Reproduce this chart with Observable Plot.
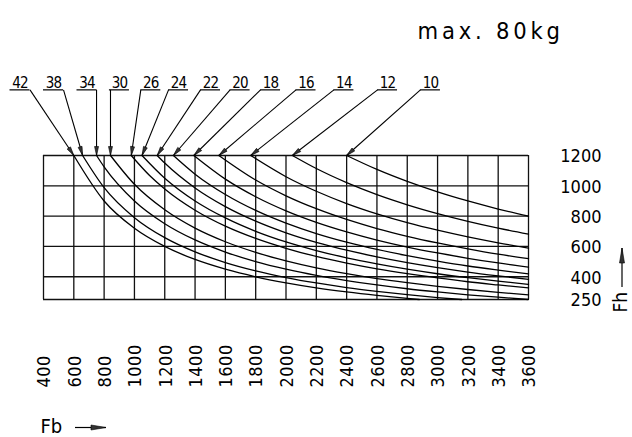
<!DOCTYPE html>
<html><head><meta charset="utf-8">
<script src="https://cdn.jsdelivr.net/npm/d3@7"></script>
<script src="https://cdn.jsdelivr.net/npm/@observablehq/plot@0.6"></script>
<style>
html,body{margin:0;padding:0;background:#fff;}
#chart svg{display:block;}
</style></head><body><div id="chart"></div>
<script>
const FONT = '"DejaVu Sans Condensed","DejaVu Sans",sans-serif';

// ---- data ----
const title = "max. 80kg";
const xName = "Fb";
const yName = "Fh";
const xTicks = [400,600,800,1000,1200,1400,1600,1800,2000,2200,2400,2600,2800,3000,3200,3400,3600];
const yTicks = [250,400,600,800,1000,1200];
const curveIds = [42,38,34,30,26,24,22,20,18,16,14,12,10];

// [Fb, Fh] points
const c42 = [[600,1200],[800,900],[1000,720],[1200,600],[1400,514],[1600,450],[1800,400],[2000,360],[2200,327],[2400,300],[2600,277],[2800,257],[2880,250]];
const c38 = [[658,1200],[800,988],[1000,790],[1200,658],[1400,564],[1600,494],[1800,439],[2000,395],[2200,359],[2400,329],[2600,304],[2800,282],[3000,263],[3160,250]];
const c34 = [[750,1200],[800,1125],[1000,900],[1200,750],[1400,643],[1600,563],[1800,500],[2000,450],[2200,409],[2400,375],[2600,346],[2800,321],[3000,300],[3200,281],[3400,265],[3600,250]];
const c30 = [[842,1200],[1000,1010],[1200,842],[1400,721],[1600,631],[1800,561],[2000,505],[2200,459],[2400,421],[2600,388],[2800,361],[3000,337],[3200,316],[3400,297],[3600,281]];
const c26 = [[979,1200],[1100,1068],[1200,979],[1400,839],[1600,734],[1800,653],[2000,588],[2200,534],[2400,490],[2600,452],[2800,420],[3000,392],[3200,367],[3400,346],[3600,326]];
const c24 = [[1050,1200],[1200,1050],[1400,900],[1600,788],[1800,700],[2000,630],[2200,573],[2400,525],[2600,485],[2800,450],[3000,420],[3200,394],[3400,371],[3600,350]];
const c22 = [[1150,1200],[1200,1150],[1400,986],[1600,863],[1800,767],[2000,690],[2200,627],[2400,575],[2600,531],[2800,493],[3000,460],[3200,431],[3400,406],[3600,383]];
const c20 = [[1257,1200],[1400,1077],[1600,943],[1800,838],[2000,754],[2200,685],[2400,628],[2600,580],[2800,539],[3000,503],[3200,471],[3400,444],[3600,419]];
const c18 = [[1392,1200],[1600,1044],[1800,928],[2000,835],[2200,759],[2400,696],[2600,642],[2800,596],[3000,557],[3200,522],[3400,491],[3600,464]];
const c16 = [[1557,1200],[1800,1038],[2000,934],[2200,849],[2400,778],[2600,718],[2800,667],[3000,623],[3200,584],[3400,549],[3600,519]];
const c14 = [[1767,1200],[2000,1060],[2200,964],[2400,883],[2600,815],[2800,757],[3000,707],[3200,663],[3400,624],[3600,589]];
const c12 = [[2042,1200],[2200,1114],[2400,1021],[2600,942],[2800,875],[3000,817],[3200,766],[3400,721],[3600,681]];
const c10 = [[2400,1200],[2600,1108],[2800,1029],[3000,960],[3200,900],[3400,847],[3600,800]];
const curveSeries = [c42,c38,c34,c30,c26,c24,c22,c20,c18,c16,c14,c12,c10];

// label placement (in chart units, above the grid)
const labelFb = [245,466,687,901,1108,1291,1502,1697,1898,2132,2382,2670,2953];
const labelFh = 1633;
const labelHalf = 66;

// ---- build ----
const lineRows = curveIds.flatMap((id, i) => curveSeries[i].map(([fb, fh]) => ({id, fb, fh})));
const leaderRows = curveIds.map((id, i) => {
  const [tx, ty] = curveSeries[i][0];
  const c = labelFb[i];
  const sx = tx > c + labelHalf ? c + labelHalf : tx < c - labelHalf ? c - labelHalf : tx;
  return {id, c, x1: sx, y1: labelFh, x2: tx, y2: ty};
});

const plot = Plot.plot({
  width: 632, height: 437,
  marginLeft: 43, marginRight: 104, marginTop: 155, marginBottom: 138,
  x: {domain: [400, 3600], axis: null},
  y: {domain: [250, 1200], axis: null},
  style: {fontFamily: FONT, color: "#000", background: "#fff"},
  marks: [
    Plot.ruleX(xTicks, {stroke: "#111", strokeWidth: 1.3}),
    Plot.ruleY(yTicks, {stroke: "#111", strokeWidth: 1.3}),
    Plot.line(lineRows, {x: "fb", y: "fh", z: "id", curve: "monotone-x", stroke: "#000", strokeWidth: 1.3}),
    Plot.ruleY(leaderRows, {y: () => labelFh, x1: d => d.c - labelHalf, x2: d => d.c + labelHalf, stroke: "#000", strokeWidth: 1.2}),
    Plot.link(leaderRows, {x1: "x1", y1: "y1", x2: "x2", y2: "y2", stroke: "#000", strokeWidth: 1.1}),
    Plot.text(leaderRows, {x: "c", y: () => labelFh, text: d => String(d.id), lineAnchor: "bottom", dy: -2, fontSize: 15, fill: "#000", ariaDescription: "clabels"}),
    Plot.text(yTicks, {y: d => d, text: d => String(d), frameAnchor: "right", textAnchor: "end", lineAnchor: "middle", dx: 73, dy: 1, fontSize: 18, fill: "#000", ariaDescription: "ylabels"}),
    Plot.text(xTicks, {x: d => d, text: d => String(d), frameAnchor: "bottom", rotate: -90, textAnchor: "start", lineAnchor: "middle", dx: 1, dy: 88, fontSize: 18, fill: "#000", ariaDescription: "xlabels"}),
    Plot.text([title], {frameAnchor: "top-left", dx: 417 - 43, dy: 38 - 155, textAnchor: "start", lineAnchor: "bottom", fontSize: 23.5, fill: "#000", ariaDescription: "title"}),
    Plot.text([xName], {frameAnchor: "bottom-left", dx: -3, dy: 133, textAnchor: "start", lineAnchor: "bottom", fontSize: 20, fill: "#000", ariaDescription: "xname"}),
    Plot.text([yName], {frameAnchor: "bottom-right", dx: 92, dy: 13, rotate: -90, textAnchor: "start", lineAnchor: "middle", fontSize: 19, fill: "#000", ariaDescription: "yname"})
  ]
});
document.getElementById("chart").appendChild(plot);

const svg = d3.select(plot);
svg.selectAll('[aria-description="clabels"] text').style("letter-spacing", "-0.8px");
svg.selectAll('[aria-description="xlabels"] text').style("letter-spacing", "0.5px");
svg.selectAll('[aria-description="title"] text').style("letter-spacing", "3.8px");

const defs = svg.insert("defs", ":first-child");
function marker(id, len, half) {
  defs.append("marker").attr("id", id)
    .attr("viewBox", `0 ${-half} ${len} ${2 * half}`)
    .attr("refX", len).attr("refY", 0)
    .attr("markerWidth", len).attr("markerHeight", 2 * half)
    .attr("markerUnits", "userSpaceOnUse").attr("orient", "auto")
    .style("overflow", "visible")
    .append("path").attr("d", `M0,${-half}L${len},0L0,${half}Z`)
    .attr("fill", "#333").attr("stroke", "#000").attr("stroke-width", 0.6);
}
marker("ah", 9, 2);
marker("ah2", 15, 2.5);
svg.selectAll('g[aria-label="link"] path').attr("marker-end", "url(#ah)");

// axis name arrows
svg.append("line").attr("x1", 75).attr("y1", 427.5).attr("x2", 106).attr("y2", 427.5)
  .attr("stroke", "#000").attr("stroke-width", 1.2).attr("marker-end", "url(#ah2)");
svg.append("line").attr("x1", 622).attr("y1", 287).attr("x2", 622).attr("y2", 248)
  .attr("stroke", "#000").attr("stroke-width", 1.2).attr("marker-end", "url(#ah2)");
</script></body></html>
